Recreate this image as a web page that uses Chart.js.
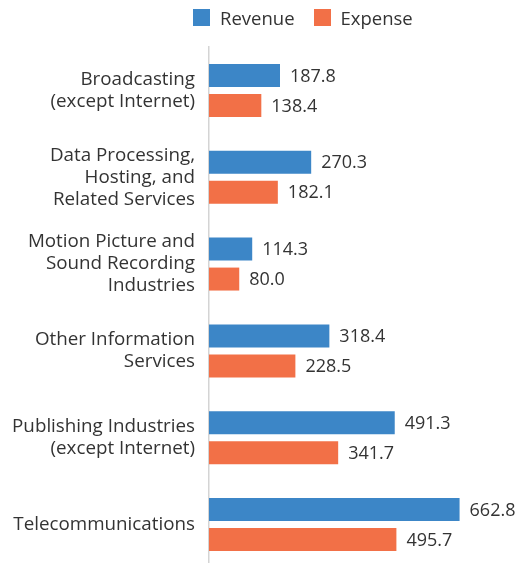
<!DOCTYPE html>
<html>
<head>
<meta charset="utf-8">
<script src="https://cdn.jsdelivr.net/npm/chart.js@4/dist/chart.umd.min.js"></script>
<style>
  html, body { margin: 0; padding: 0; background: #fff; overflow: hidden; }
  #wrap { position: relative; width: 519px; height: 570px; }
  #legend { position: absolute; top: 5px; left: 193px; display: flex; align-items: center;
    font-family: "Open Sans", sans-serif; font-size: 18.5px; color: #333; }
  #legend .item { display: flex; align-items: center; margin-right: 19px; }
  #legend .box { width: 17px; height: 17px; margin-right: 10px; }
</style>
</head>
<body>
<div id="wrap">
  <canvas id="chart" width="519" height="570"></canvas>
  <div id="legend"></div>
</div>
<script>
const categories = [
  ['Broadcasting', '(except Internet)'],
  ['Data Processing,', 'Hosting, and', 'Related Services'],
  ['Motion Picture and', 'Sound Recording', 'Industries'],
  ['Other Information', 'Services'],
  ['Publishing Industries', '(except Internet)'],
  ['Telecommunications']
];
const revenue = [187.8, 270.3, 114.3, 318.4, 491.3, 662.8];
const expense = [138.4, 182.1, 80.0, 228.5, 341.7, 495.7];

const BLUE = '#3c86c7';
const ORANGE = '#f27047';
const TEXT = '#333333';
const FONT = '"Open Sans", sans-serif';

const legendEl = document.getElementById('legend');
[['Revenue', BLUE], ['Expense', ORANGE]].forEach(([name, color]) => {
  const item = document.createElement('div');
  item.className = 'item';
  item.innerHTML = '<div class="box" style="background:' + color + '"></div><span>' + name + '</span>';
  legendEl.appendChild(item);
});

// value labels to the right of each bar
const valueLabels = {
  id: 'valueLabels',
  afterDatasetsDraw(chart) {
    const ctx = chart.ctx;
    ctx.save();
    ctx.font = '18px ' + FONT;
    ctx.fillStyle = TEXT;
    ctx.textBaseline = 'middle';
    chart.data.datasets.forEach((ds, i) => {
      chart.getDatasetMeta(i).data.forEach((bar, j) => {
        const txt = ds.data[j].toFixed(1);
        const w = ctx.measureText(txt).width;
        let x = bar.x + 10;
        if (x + w > chart.width - 1) x = chart.width - 1 - w;
        ctx.fillText(txt, x, bar.y + 1);
      });
    });
    ctx.restore();
  }
};

new Chart(document.getElementById('chart'), {
  type: 'bar',
  data: {
    labels: categories,
    datasets: [
      { label: 'Revenue', data: revenue, backgroundColor: BLUE },
      { label: 'Expense', data: expense, backgroundColor: ORANGE }
    ]
  },
  options: {
    indexAxis: 'y',
    responsive: false,
    animation: false,
    categoryPercentage: 0.69,
    barPercentage: 0.767,
    layout: { padding: { top: 47, bottom: 2, left: 0, right: 0 } },
    plugins: {
      legend: { display: false },
      tooltip: { enabled: false }
    },
    scales: {
      x: { display: false, min: 0, max: 820 },
      y: {
        grid: { display: false, drawTicks: false },
        border: { display: true, color: '#d4d4d4', width: 1.5 },
        ticks: {
          color: TEXT,
          padding: 14,
          font: { family: FONT, size: 18.8, lineHeight: 1.17 }
        },
        afterFit(scale) {
          scale.width = 209;
          scale.paddingTop = 0;
          scale.paddingBottom = 0;
        }
      }
    }
  },
  plugins: [valueLabels]
});
</script>
</body>
</html>
